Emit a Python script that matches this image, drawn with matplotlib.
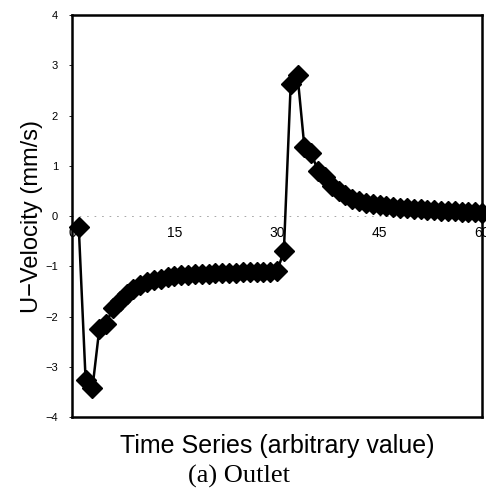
import matplotlib
matplotlib.use("Agg")
import matplotlib.pyplot as plt
import numpy as np

time = list(range(1, 61))
u_velocity = [
    -0.22, -3.25, -3.42, -2.25, -2.15, -1.82, -1.68, -1.55, -1.45, -1.38,
    -1.32, -1.28, -1.25, -1.22, -1.20, -1.18, -1.17, -1.16, -1.15, -1.15,
    -1.14, -1.14, -1.13, -1.13, -1.12, -1.12, -1.12, -1.11, -1.11, -1.10,
    -0.70, 2.62, 2.80, 1.38, 1.25, 0.90, 0.78, 0.60, 0.50, 0.42,
    0.35, 0.30, 0.27, 0.24, 0.22, 0.20, 0.18, 0.17, 0.16, 0.15,
    0.14, 0.13, 0.12, 0.11, 0.10, 0.10, 0.09, 0.08, 0.08, 0.07,
]
x_ticks = [0, 15, 30, 45, 60]
y_ticks = [-4, -3, -2, -1, 0, 1, 2, 3, 4]

plt.rcParams['font.family'] = ['Liberation Sans', 'DejaVu Sans']

fig = plt.figure(figsize=(4.86, 4.92), dpi=100)
ax = fig.add_axes([0.148, 0.152, 0.844, 0.8175])

ax.plot(time, u_velocity, color='black', lw=1.8, marker='D', ms=10,
        mfc='black', mec='black', zorder=3, clip_on=False)

ax.set_xlim(0, 60)
ax.set_ylim(-4, 4)
ax.set_yticks(y_ticks)
ax.set_yticklabels([str(v).replace('-', '\u2212') for v in y_ticks], fontsize=8)
ax.tick_params(axis='y', direction='out', length=2, width=0.6, pad=8)
ax.set_xticks([])
for s in ax.spines.values():
    s.set_linewidth(1.8)

sec = ax.secondary_xaxis(0.5)
sec.xaxis.set_ticks_position('bottom')
sec.set_xticks(x_ticks)
sec.set_xticklabels([str(v) for v in x_ticks], fontsize=10)
sec.tick_params(axis='x', length=0, pad=7)
for name in ('top', 'bottom'):
    sec.spines[name].set_linestyle((0, (1, 8)))
    sec.spines[name].set_linewidth(0.6)
    sec.spines[name].set_color('#999999')

ax.set_ylabel('U\u2212Velocity (mm/s)', fontsize=17, labelpad=2)
ax.set_xlabel('Time Series (arbitrary value)', fontsize=18, labelpad=12)
fig.text(0.492, 0.032, '(a) Outlet', fontsize=19, family='Liberation Serif',
         ha='center', va='center')

fig.savefig('out.png', dpi=100)
